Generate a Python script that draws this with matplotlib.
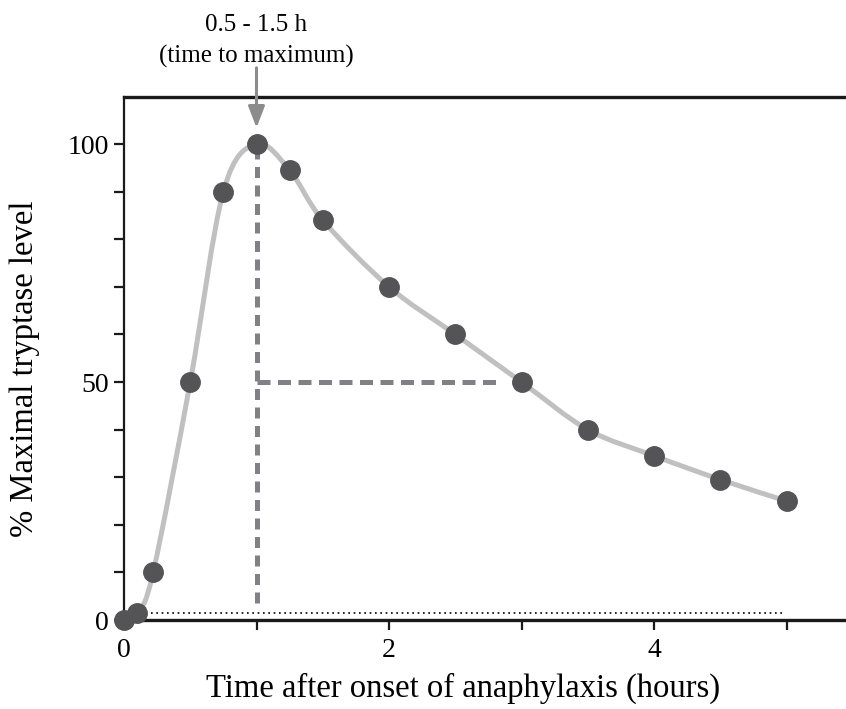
import matplotlib
matplotlib.use("Agg")
import matplotlib.pyplot as plt
from matplotlib.path import Path
from matplotlib.patches import PathPatch
import numpy as np

# Data
time_h = [0.0, 0.1, 0.22, 0.5, 0.75, 1.0, 1.25, 1.5, 2.0, 2.5, 3.0, 3.5, 4.0, 4.5, 5.0]
tryptase_pct = [0, 1.5, 10, 50, 90, 100, 94.5, 84, 70, 60, 50, 40, 34.5, 29.5, 25]
peak_time = 1.0
half_level = 50
half_end_time = 2.83
baseline = 1.5
baseline_span = [0.2, 4.98]
x_major = [0, 2, 4]
x_minor = [1, 3, 5]
y_major = [0, 50, 100]
y_minor = [10, 20, 30, 40, 60, 70, 80, 90]
annot_lines = ["0.5 - 1.5 h", "(time to maximum)"]
xlabel = "Time after onset of anaphylaxis (hours)"
ylabel = "% Maximal tryptase level"

plt.rcParams['font.family'] = ['Liberation Serif', 'DejaVu Serif']

fig = plt.figure(figsize=(8.46, 7.09), dpi=100)
ax = fig.add_axes([124/846, 89/709, 722/846, 523/709])
ax.set_xlim(0, 722/132.5)
ax.set_ylim(0, 523/4.76)

# smooth curve through the points (Catmull-Rom as cubic Bezier path)
pts = np.column_stack([time_h, tryptase_pct]).astype(float)
verts = [tuple(pts[0])]
codes = [Path.MOVETO]
n = len(pts)
for i in range(n - 1):
    p0 = pts[i - 1] if i > 0 else pts[i]
    p1 = pts[i]
    p2 = pts[i + 1]
    p3 = pts[i + 2] if i + 2 < n else pts[i + 1]
    c1 = p1 + (p2 - p0) / 6.0
    c2 = p2 - (p3 - p1) / 6.0
    verts += [tuple(c1), tuple(c2), tuple(p2)]
    codes += [Path.CURVE4, Path.CURVE4, Path.CURVE4]
curve = PathPatch(Path(verts, codes), facecolor='none', edgecolor='#c0c0c0',
                  lw=3.6, transform=ax.transData, zorder=2, clip_on=False,
                  capstyle='round', joinstyle='round')
ax.add_patch(curve)

# reference lines
ax.plot([peak_time, peak_time], [3.5, 100], color='#808085', lw=3.6,
        dashes=(2.2, 1.5), zorder=1.5)
ax.plot([peak_time, half_end_time], [half_level, half_level], color='#808085', lw=3.6,
        dashes=(2.6, 1.5), zorder=1.5)
ax.plot(baseline_span, [baseline, baseline], color='black', lw=1.2,
        linestyle=(0, (1, 2.2)), zorder=1.5)

# markers
ax.plot(time_h, tryptase_pct, linestyle='none', marker='o', ms=14,
        markerfacecolor='#545457', markeredgecolor='#545457', zorder=3, clip_on=False)

# arrow and annotation
ax.annotate('', xy=(peak_time, 103.4), xytext=(peak_time, 116.0),
            xycoords='data', textcoords='data',
            arrowprops=dict(arrowstyle='-|>,head_length=1.3,head_width=0.5',
                            color='#8c8c8c', lw=2.2, shrinkA=0, shrinkB=0),
            annotation_clip=False)
ax.text(peak_time, 125.0, annot_lines[0], ha='center', va='center', fontsize=18)
ax.text(peak_time, 118.3, annot_lines[1], ha='center', va='center', fontsize=18)

# spines
ax.spines['right'].set_visible(False)
ax.spines['left'].set_linewidth(1.6)
ax.spines['bottom'].set_linewidth(2.4)
ax.spines['top'].set_linewidth(2.4)
for s in ax.spines.values():
    s.set_color('#1a1a1a')

ax.set_xticks(x_major)
ax.set_xticklabels([str(v) for v in x_major])
ax.set_xticks(x_minor, minor=True)
ax.set_yticks(y_major)
ax.set_yticklabels([str(v) for v in y_major])
ax.set_yticks(y_minor, minor=True)
ax.tick_params(axis='both', which='both', direction='out', length=7, width=1.6,
               color='#1a1a1a', labelsize=20)
ax.tick_params(axis='y', which='both', pad=4)
ax.tick_params(axis='x', which='both', pad=6)

xl = ax.set_xlabel(xlabel, fontsize=23.5)
ax.xaxis.set_label_coords((463 - 124) / 722, (620 - 688) / 523)
xl.set_va('center')
yl = ax.set_ylabel(ylabel, fontsize=23.5)
ax.yaxis.set_label_coords((25 - 124) / 722, (620 - 369) / 523)
yl.set_va('center')

fig.savefig('out.png', dpi=100)
